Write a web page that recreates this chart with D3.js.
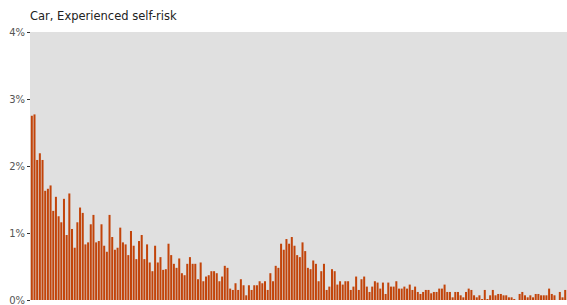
<!DOCTYPE html>
<html>
<head>
<meta charset="utf-8">
<script src="https://cdn.jsdelivr.net/npm/d3@7"></script>
<style>
  html, body { margin: 0; padding: 0; background: #fff; }
  svg { display: block; }
</style>
</head>
<body>
<svg id="chart" width="567" height="305"></svg>
<script>
const title = "Car, Experienced self-risk";
const yTicks = [0, 0.01, 0.02, 0.03, 0.04];
// share of respondents (%), one value per bar, in order
const values = [
  2.75, 2.77, 2.09, 2.19, 2.09, 1.63, 1.66, 1.71, 1.33, 1.54,
  1.25, 1.16, 1.51, 0.97, 1.59, 1.06, 0.78, 1.16, 1.38, 1.30,
  0.83, 0.86, 1.13, 1.27, 0.86, 0.88, 1.13, 0.81, 0.72, 1.27,
  0.94, 0.75, 0.78, 1.08, 0.86, 0.83, 0.67, 1.03, 0.81, 0.61,
  0.88, 0.97, 0.61, 0.83, 0.56, 0.43, 0.81, 0.56, 0.64, 0.45,
  0.46, 0.84, 0.67, 0.54, 0.48, 0.62, 0.40, 0.37, 0.54, 0.64,
  0.54, 0.54, 0.31, 0.56, 0.28, 0.35, 0.37, 0.43, 0.43, 0.40,
  0.28, 0.35, 0.51, 0.48, 0.17, 0.15, 0.25, 0.15, 0.31, 0.22,
  0.07, 0.22, 0.15, 0.22, 0.22, 0.28, 0.25, 0.28, 0.15, 0.40,
  0.28, 0.51, 0.48, 0.84, 0.75, 0.91, 0.84, 0.94, 0.81,
  0.67, 0.64, 0.86, 0.73, 0.48, 0.46, 0.59, 0.54, 0.28, 0.43,
  0.54, 0.15, 0.20, 0.46, 0.43, 0.23, 0.28, 0.23, 0.28, 0.28,
  0.15, 0.20, 0.35, 0.15, 0.31, 0.35, 0.20, 0.12, 0.20, 0.28,
  0.26, 0.17, 0.26, 0.09, 0.26, 0.20, 0.20, 0.28, 0.17, 0.17,
  0.20, 0.17, 0.23, 0.15, 0.20, 0.12, 0.09, 0.12, 0.15, 0.15,
  0.10, 0.12, 0.12, 0.17, 0.17, 0.23, 0.12, 0.12, 0.04, 0.12,
  0.12, 0.07, 0.04, 0.12, 0.17, 0.15, 0.07, 0.04, 0.07, 0.015,
  0.15, 0.015, 0.07, 0.15, 0.07, 0.09, 0.09, 0.07, 0.07, 0.04,
  0.04, 0.015, 0, 0.09, 0.12, 0.07, 0.04, 0.07, 0.04, 0.09,
  0.09, 0.07, 0.07, 0.07, 0.17, 0.09, 0.07, 0, 0.12, 0.04, 0.15
];
const categories = values.map((_, i) => i + 1);

const svg = d3.select("#chart");
const margin = { left: 30, right: 0, top: 32, bottom: 5 };
const W = 567, H = 305;
const x = d3.scaleBand().domain(categories)
  .range([margin.left, W - margin.right]).paddingInner(0.25).paddingOuter(0.3);
const y = d3.scaleLinear().domain([0, 0.04]).range([H - margin.bottom, margin.top]);

svg.append("rect")
  .attr("x", margin.left).attr("y", margin.top)
  .attr("width", W - margin.left - margin.right)
  .attr("height", H - margin.bottom - margin.top)
  .attr("fill", "#e0e0e0");

svg.append("g").selectAll("rect")
  .data(values)
  .join("rect")
  .attr("x", (d, i) => x(categories[i]))
  .attr("width", x.bandwidth())
  .attr("y", d => y(d / 100))
  .attr("height", d => y(0) - y(d / 100))
  .attr("fill", "#c2440a");

const yAxis = svg.append("g")
  .attr("transform", `translate(${margin.left},0)`)
  .call(d3.axisLeft(y).tickValues(yTicks).tickFormat(d3.format(".0%")).tickSize(3).tickPadding(2));
yAxis.select(".domain").remove();
yAxis.selectAll(".tick line").attr("stroke", "#333");
yAxis.selectAll(".tick text")
  .attr("fill", "#555")
  .style("font-family", "'DejaVu Sans', Verdana, sans-serif")
  .style("font-size", "10px");

svg.append("text")
  .attr("x", margin.left).attr("y", 20)
  .attr("fill", "#222")
  .style("font-family", "'DejaVu Sans', Verdana, sans-serif")
  .style("font-size", "11.5px")
  .text(title);
</script>
</body>
</html>
